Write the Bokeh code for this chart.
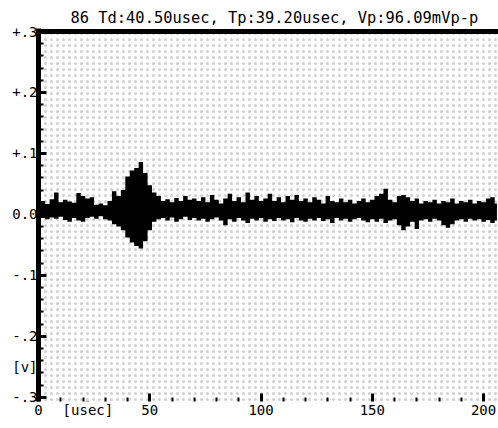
from bokeh.plotting import figure
from bokeh.models import Range1d, FixedTicker, BoxAnnotation, Span
from bokeh.embed import file_html
from bokeh.resources import INLINE

# time axis (usec), sampled every 2 usec
t_us = list(range(0, 208, 2))
upper_v = [0.018, 0.022, 0.017, 0.025, 0.036, 0.020, 0.024, 0.021, 0.019, 0.035,
           0.030, 0.026, 0.028, 0.016, 0.018, 0.015, 0.022, 0.038, 0.030, 0.040,
           0.062, 0.072, 0.076, 0.086, 0.068, 0.048, 0.036, 0.030, 0.022, 0.025,
           0.020, 0.027, 0.022, 0.030, 0.024, 0.026, 0.022, 0.028, 0.020, 0.032,
           0.024, 0.018, 0.026, 0.034, 0.022, 0.028, 0.020, 0.036, 0.024, 0.030,
           0.022, 0.026, 0.034, 0.022, 0.028, 0.020, 0.030, 0.024, 0.032, 0.022,
           0.026, 0.020, 0.028, 0.024, 0.018, 0.030, 0.022, 0.020, 0.026, 0.020,
           0.024, 0.018, 0.022, 0.026, 0.020, 0.024, 0.030, 0.034, 0.042, 0.024,
           0.020, 0.030, 0.032, 0.028, 0.022, 0.026, 0.018, 0.022, 0.020, 0.024,
           0.018, 0.022, 0.020, 0.026, 0.018, 0.022, 0.020, 0.024, 0.018, 0.022,
           0.020, 0.026, 0.028, 0.018]
lower_v = [-0.004, -0.006, -0.008, -0.005, -0.007, -0.004, -0.009, -0.012, -0.006, -0.010,
           -0.012, -0.006, -0.004, -0.007, -0.003, -0.008, -0.010, -0.016, -0.020, -0.026,
           -0.038, -0.046, -0.052, -0.056, -0.044, -0.026, -0.012, -0.008, -0.006, -0.010,
           -0.005, -0.012, -0.008, -0.004, -0.009, -0.006, -0.010, -0.007, -0.012, -0.008,
           -0.005, -0.010, -0.018, -0.008, -0.012, -0.006, -0.010, -0.014, -0.007, -0.010,
           -0.006, -0.012, -0.008, -0.011, -0.006, -0.010, -0.008, -0.013, -0.006, -0.010,
           -0.012, -0.007, -0.010, -0.006, -0.011, -0.008, -0.014, -0.006, -0.010, -0.007,
           -0.012, -0.008, -0.006, -0.010, -0.013, -0.008, -0.012, -0.007, -0.014, -0.010,
           -0.008, -0.018, -0.026, -0.020, -0.012, -0.024, -0.010, -0.008, -0.012, -0.007,
           -0.010, -0.018, -0.022, -0.016, -0.010, -0.008, -0.012, -0.007, -0.010, -0.008,
           -0.012, -0.009, -0.014, -0.010]

y_ticks = [-0.3, -0.2, -0.1, 0.0, 0.1, 0.2, 0.3]
y_tick_labels = ["-.3", "-.2", "-.1", "0.0", "+.1", "+.2", "+.3"]
y_unit_pos, y_unit_text = -0.25, "[v]"
x_ticks = [0, 50, 100, 150, 200]
x_tick_labels = ["0", "50", "100", "150", "200"]
x_unit_pos, x_unit_text = 22.2, "[usec]"
x_minor = [10, 20, 30, 40, 60, 70, 80, 90, 110, 120, 130, 140, 160, 170, 180, 190]
y_minor = [round(-0.3 + 0.02 * i, 2) for i in range(31)]

title_text = "86 Td:40.50usec, Tp:39.20usec, Vp:96.09mVp-p"
FONT = "DejaVu Sans Mono"
Y0 = -0.307  # a little room under the -.3 level for the bottom tick marks

p = figure(width=498, height=428, output_backend="svg", toolbar_location=None,
           x_range=Range1d(0, 206.7), y_range=Range1d(Y0, 0.305),
           min_border_left=38, min_border_right=0, min_border_top=28, min_border_bottom=27,
           title=title_text)
p.title.align = "left"
p.title.offset = 32
p.title.standoff = 4
p.title.text_font = FONT
p.title.text_font_size = "15.4px"
p.title.text_font_style = "normal"
p.title.text_color = "black"

p.outline_line_color = None
p.grid.visible = False
p.background_fill_color = "#ffffff"
p.border_fill_color = "#ffffff"

HATCH = dict(hatch_pattern=".", hatch_color="#c4c4c4", hatch_scale=6,
             hatch_weight=0.5, hatch_alpha=0.8)

# stipple texture
p.add_layout(BoxAnnotation(fill_alpha=0, line_color=None, level="underlay", **HATCH))

# waveform band
p.varea_step(x=t_us, y1=lower_v, y2=upper_v, fill_color="black", step_mode="center")

# top thick line
p.add_layout(Span(location=0.3, dimension="width", line_color="black", line_width=5))

# left axis
ya = p.yaxis[0]
ya.ticker = FixedTicker(ticks=y_ticks + [y_unit_pos], minor_ticks=y_minor)
ya.major_label_overrides = {**{k: v for k, v in zip(y_ticks, y_tick_labels)},
                            y_unit_pos: y_unit_text}
ya.axis_line_width = 5
ya.axis_line_color = "black"
ya.major_tick_in = 8
ya.major_tick_out = 0
ya.major_tick_line_width = 3
ya.minor_tick_in = 5
ya.minor_tick_out = 0
ya.minor_tick_line_width = 2
ya.major_label_standoff = 1
ya.major_label_text_font = FONT
ya.major_label_text_font_size = "14px"
ya.major_label_text_color = "black"

# bottom axis
xa = p.xaxis[0]
xa.ticker = FixedTicker(ticks=x_ticks + [x_unit_pos], minor_ticks=x_minor)
xa.major_label_overrides = {**{k: v for k, v in zip(x_ticks, x_tick_labels)},
                            x_unit_pos: x_unit_text}
xa.axis_line_color = None
xa.major_tick_in = 8
xa.major_tick_out = 0
xa.major_tick_line_width = 3
xa.minor_tick_in = 4
xa.minor_tick_out = 0
xa.minor_tick_line_width = 2
xa.major_label_standoff = 0
xa.major_label_text_font = FONT
xa.major_label_text_font_size = "14px"
xa.major_label_text_color = "black"

# the unit labels carry no tick mark: mask their tick with background
p.add_layout(BoxAnnotation(left=1.15, right=4.6, bottom=y_unit_pos - 0.003,
                           top=y_unit_pos + 0.003, fill_color="white", fill_alpha=1,
                           line_color=None, level="overlay", **HATCH))
p.add_layout(BoxAnnotation(left=x_unit_pos - 0.9, right=x_unit_pos + 0.9, bottom=Y0,
                           top=-0.29, fill_color="white", fill_alpha=1,
                           line_color=None, level="overlay", **HATCH))

open("out.html", "w").write(file_html(p, INLINE))
